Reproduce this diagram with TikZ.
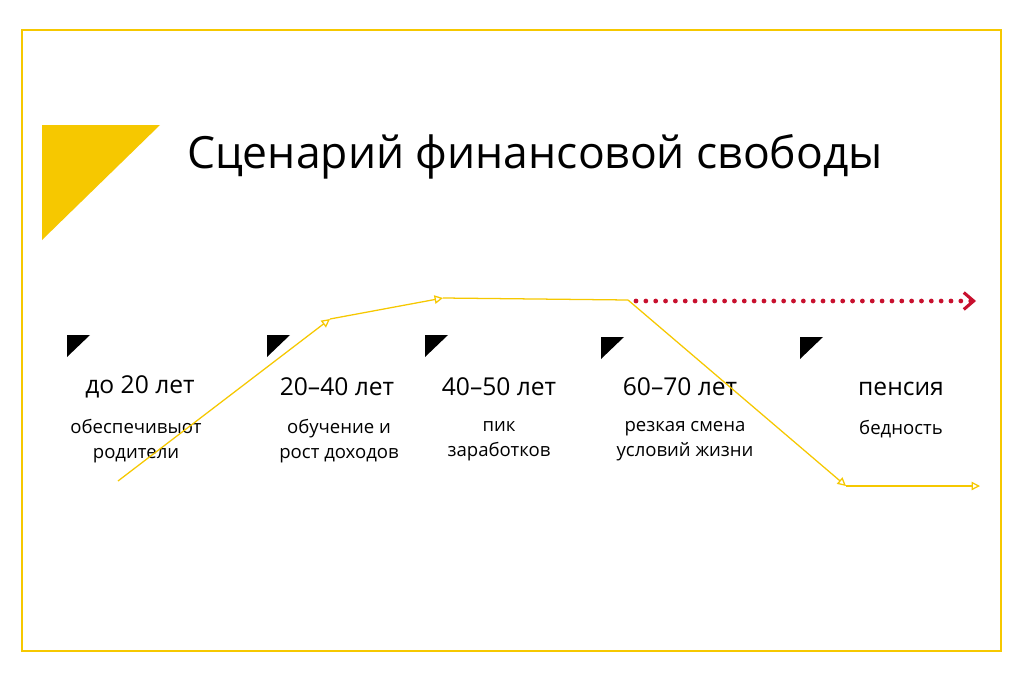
\documentclass[tikz,border=0pt]{standalone}
\usepackage{fontspec}
\setmainfont{Open Sans}
\usetikzlibrary{positioning, arrows.meta}
\definecolor{gold}{HTML}{F6C800}
\definecolor{dotred}{HTML}{C8102E}
\begin{document}
\begin{tikzpicture}[x=0.025cm, y=-0.025cm,
    age/.style={font=\fontsize{17.5}{21}\selectfont, text=black},
    note/.style={font=\fontsize{13.2}{18}\selectfont, align=center, text=black},
    flag/.style={fill=black},
    trail/.style={draw=gold, line width=0.9pt},
    tip/.style={-{Triangle[open, length=6pt, width=6pt]}}
]
\useasboundingbox (0,0) rectangle (1024,683);
\fill[white] (0,0) rectangle (1024,683);
\draw[gold, line width=1.6pt] (22,30) rectangle (1001,651);
\fill[gold] (42,125) -- (160,125) -- (42,240) -- cycle;
\node[font=\fontsize{31.6}{37}\selectfont] (title) at (535,157) {Сценарий финансовой свободы};

% markers
\foreach \x/\y in {67/335, 267/335, 425/335, 601/337, 800/337}
  \fill[flag] (\x,\y) -- ++(23,0) -- ++(-23,22) -- cycle;

% ages
\node[age] (a1) at (140,387) {до 20 лет};
\node[age] (a2) at (337,387) {20–40 лет};
\node[age] (a3) at (499,387) {40–50 лет};
\node[age] (a4) at (680,387) {60–70 лет};
\node[age] (a5) at (901,389) {пенсия};

\node[note] (n1) at (136,441) {обеспечивыот\\родители};
\node[note] (n2) at (339,441) {обучение и\\рост доходов};
\node[note] (n3) at (499,441) {пик\\заработков};
\node[note] (n4) at (685,441) {резкая смена\\условий жизни};
\node[note] (n5) at (901,429) {бедность};

% trajectory
\coordinate (p0) at (118,481);
\coordinate (p1) at (330,319);
\coordinate (p2) at (443,298);
\coordinate (p3) at (628,300);
\coordinate (p4) at (846,486);
\coordinate (p5) at (980,486);
\coordinate (r0) at (636,301);
\coordinate (r1) at (976,301);
\draw[trail, tip] (p0) -- (p1);
\draw[trail, tip] (p1) -- (p2);
\draw[trail] (p2) -- (p3);
\draw[trail, tip] (p3) -- (p4);
\draw[trail, tip] (p4) -- (p5);
\draw[dotred, line width=3.4pt, line cap=round, dash pattern=on 0pt off 7pt,
      -{Straight Barb[length=7pt, width=12pt, line width=2.2pt]}] (r0) -- (r1);
\end{tikzpicture}
\end{document}
